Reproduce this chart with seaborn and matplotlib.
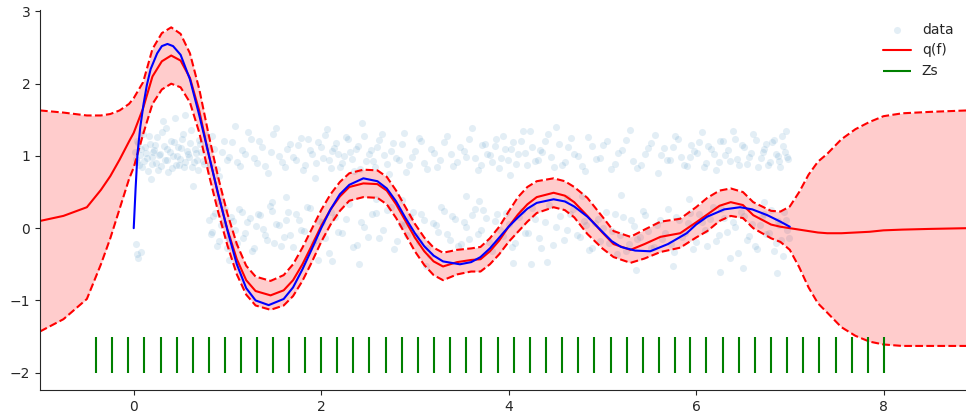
import numpy as np
import pandas as pd
import matplotlib
matplotlib.use("Agg")
import matplotlib.pyplot as plt
import seaborn as sns

# noisy observations, upper band (around 1)
up_x = [0.01, 0.03, 0.05, 0.07, 0.09, 0.12, 0.14, 0.16, 0.19, 0.21,
        0.23, 0.26, 0.28, 0.30, 0.33, 0.35, 0.37, 0.40, 0.42, 0.45,
        0.47, 0.49, 0.52, 0.54, 0.57, 0.59, 0.61, 0.64, 0.66, 0.69,
        0.71, 0.74, 0.77, 0.81, 0.86, 0.91, 0.96, 1.02, 1.08, 1.13,
        1.19, 1.25, 1.31, 1.37, 1.43, 1.49, 1.55, 1.61, 1.67, 1.73,
        1.78, 1.83, 1.88, 1.93, 1.97, 2.02, 2.06, 2.10, 2.14, 2.18,
        2.22, 2.26, 2.31, 2.35, 2.39, 2.44, 2.48, 2.53, 2.57, 2.62,
        2.67, 2.72, 2.77, 2.83, 2.88, 2.94, 3.00, 3.07, 3.13, 3.20,
        3.27, 3.34, 3.41, 3.48, 3.55, 3.61, 3.67, 3.72, 3.77, 3.82,
        3.87, 3.92, 3.96, 4.01, 4.05, 4.10, 4.15, 4.20, 4.25, 4.31,
        4.36, 4.42, 4.48, 4.54, 4.60, 4.67, 4.74, 4.81, 4.89, 4.97,
        5.05, 5.13, 5.21, 5.29, 5.37, 5.45, 5.52, 5.59, 5.66, 5.72,
        5.78, 5.84, 5.90, 5.95, 6.01, 6.06, 6.11, 6.16, 6.21, 6.26,
        6.31, 6.36, 6.41, 6.46, 6.51, 6.56, 6.61, 6.66, 6.71, 6.75,
        6.79, 6.83, 6.87, 6.90, 6.93, 6.96, 6.98, 0.18, 0.44, 0.63,
        0.02, 0.04, 0.06, 0.08, 0.10, 0.11, 0.13, 0.15, 0.17, 0.20,
        0.22, 0.24, 0.25, 0.27, 0.29, 0.32, 0.34, 0.36, 0.39, 0.41,
        0.43, 0.46, 0.48, 0.50, 0.53, 0.55, 0.58, 0.60, 0.62, 0.65,
        0.67, 0.70, 0.72, 0.75, 0.79, 0.84, 0.89, 0.94, 0.99, 1.05,
        1.10, 1.16, 1.22, 1.28, 1.34, 1.40, 1.46, 1.52, 1.58, 1.64,
        1.70, 1.75, 1.81, 1.86, 1.90, 1.95, 2.00, 2.04, 2.08, 2.12,
        2.16, 2.20, 2.24, 2.29, 2.33, 2.37, 2.41, 2.46, 2.51, 2.55,
        2.60, 2.65, 2.70, 2.75, 2.80, 2.86, 2.91, 2.97, 3.04, 3.10,
        3.17, 3.24, 3.31, 3.38, 3.45, 3.52, 3.58, 3.64, 3.70, 3.75,
        3.80, 3.85, 3.90, 3.94, 3.99, 4.03, 4.08, 4.13, 4.18, 4.23,
        4.28, 4.33, 4.39, 4.45, 4.51, 4.57, 4.63, 4.70, 4.78, 4.85,
        4.93, 5.01, 5.09, 5.17, 5.25, 5.33, 5.41, 5.49, 5.56, 5.63,
        5.69, 5.75, 5.81, 5.87, 5.93, 5.98, 6.03, 6.08, 6.13, 6.19,
        6.24, 6.29, 6.34, 6.39, 6.44, 6.49, 6.54, 6.59, 6.64, 6.69,
        6.73, 6.77, 6.81, 6.85, 6.88, 6.92, 6.95, 6.97, 0.31, 0.55]
up_y = [1.05, 0.92, 1.18, 1.01, 0.84, 1.12, 0.97, 1.27, 0.89, 1.06,
        1.15, 0.81, 1.02, 1.33, 0.94, 1.09, 0.78, 1.21, 1.00, 0.88,
        1.13, 0.96, 1.24, 0.85, 1.07, 0.99, 1.36, 0.91, 1.04, 0.80,
        1.17, 0.93, 1.29, 0.87, 1.10, 0.72, 1.20, 0.98, 1.41, 0.86,
        1.03, 1.23, 0.90, 1.12, 0.77, 1.31, 1.00, 0.84, 1.16, 0.95,
        1.25, 0.88, 1.08, 0.69, 1.19, 0.97, 1.37, 0.83, 1.11, 1.02,
        0.90, 1.26, 1.05, 0.79, 1.14, 1.46, 0.93, 1.08, 0.85, 1.22,
        1.01, 0.75, 1.18, 0.95, 1.32, 0.87, 1.07, 1.21, 0.82, 1.04,
        0.94, 1.28, 0.86, 1.12, 0.99, 1.38, 0.80, 1.15, 1.03, 0.91,
        1.24, 0.97, 1.09, 0.73, 1.19, 1.02, 1.34, 0.88, 1.13, 0.95,
        1.06, 1.30, 0.84, 1.17, 0.92, 1.25, 1.00, 0.79, 1.14, 0.97,
        1.21, 0.89, 1.08, 1.36, 0.83, 1.02, 1.18, 0.76, 1.11, 0.94,
        1.27, 0.98, 0.86, 1.15, 1.04, 1.33, 0.90, 1.09, 0.81, 1.20,
        1.01, 0.93, 1.24, 0.87, 1.12, 0.99, 1.30, 0.84, 1.06, 1.17,
        0.92, 1.22, 1.00, 0.85, 1.14, 1.35, 0.96, 0.68, 1.52, 0.58,
        0.96, 1.21, 0.87, 1.09, 1.30, 0.93, 1.04, 0.79, 1.16, 0.98,
        1.08, 0.90, 1.26, 1.01, 0.86, 1.14, 1.39, 0.95, 1.06, 0.83,
        1.19, 1.00, 0.88, 1.11, 1.31, 0.92, 1.03, 1.18, 0.84, 1.09,
        0.95, 1.22, 1.05, 0.89, 1.12, 1.27, 0.82, 1.06, 0.94, 1.19,
        0.91, 1.08, 1.33, 0.97, 1.20, 0.86, 1.05, 1.39, 0.92, 1.10,
        0.98, 1.15, 0.80, 1.24, 1.03, 0.90, 1.12, 1.29, 0.94, 1.07,
        1.18, 0.85, 1.00, 1.23, 0.96, 1.10, 0.82, 1.27, 1.02, 0.93,
        1.13, 1.30, 0.89, 1.07, 0.97, 1.16, 0.78, 0.99, 1.25, 0.90,
        1.10, 0.85, 1.19, 1.02, 0.91, 1.07, 1.24, 0.97, 0.87, 1.16,
        1.01, 1.14, 0.83, 1.28, 0.95, 1.10, 0.89, 1.20, 1.04, 1.35,
        0.93, 1.08, 1.21, 0.98, 1.40, 0.88, 1.13, 1.03, 0.86, 1.26,
        0.96, 1.15, 0.82, 1.04, 1.22, 0.93, 0.87, 1.11, 1.29, 1.01,
        0.95, 1.12, 1.23, 0.88, 0.99, 1.07, 1.19, 0.85, 1.14, 1.02,
        0.91, 1.20, 1.08, 1.34, 0.96, 1.15, 0.89, 1.04, 1.22, 0.97,
        1.09, 0.88, 1.19, 1.03, 0.93, 1.27, 1.06, 0.99, 1.48, 1.57]

# noisy observations, lower band (around 0)
low_x = [0.02, 0.05, 0.08, 0.80, 0.84, 0.87, 0.91, 0.95, 0.99, 1.04,
         1.08, 1.12, 1.17, 1.21, 1.26, 1.30, 1.35, 1.40, 1.45, 1.50,
         1.55, 1.60, 1.65, 1.70, 1.76, 1.82, 1.88, 1.94, 2.01, 2.08,
         2.15, 2.22, 2.30, 2.38, 2.46, 2.54, 2.62, 2.70, 2.78, 2.85,
         2.92, 2.98, 3.04, 3.10, 3.16, 3.22, 3.28, 3.34, 3.40, 3.46,
         3.52, 3.58, 3.64, 3.70, 3.76, 3.82, 3.88, 3.94, 4.00, 4.07,
         4.14, 4.21, 4.28, 4.35, 4.43, 4.51, 4.59, 4.66, 4.73, 4.80,
         4.86, 4.92, 4.98, 5.04, 5.10, 5.16, 5.22, 5.28, 5.34, 5.40,
         5.46, 5.52, 5.58, 5.64, 5.70, 5.76, 5.82, 5.88, 5.94, 6.00,
         6.06, 6.12, 6.18, 6.24, 6.30, 6.36, 6.42, 6.48, 6.54, 6.60,
         6.65, 6.70, 6.75, 6.80, 6.85, 6.89, 6.93, 6.96, 6.99, 1.02,
         1.48, 2.12, 2.58, 3.12, 3.68, 4.24, 4.78, 5.36, 5.92, 6.50,
         0.03, 0.82, 0.85, 0.89, 0.93, 0.97, 1.01, 1.06, 1.10, 1.15,
         1.19, 1.24, 1.28, 1.33, 1.38, 1.42, 1.47, 1.52, 1.57, 1.62,
         1.67, 1.73, 1.79, 1.85, 1.91, 1.98, 2.04, 2.11, 2.18, 2.26,
         2.34, 2.42, 2.50, 2.58, 2.66, 2.74, 2.81, 2.88, 2.95, 3.01,
         3.07, 3.13, 3.19, 3.25, 3.31, 3.37, 3.43, 3.49, 3.55, 3.61,
         3.67, 3.73, 3.79, 3.85, 3.91, 3.97, 4.04, 4.11, 4.18, 4.25,
         4.32, 4.39, 4.47, 4.55, 4.62, 4.69, 4.76, 4.83, 4.89, 4.95,
         5.01, 5.07, 5.13, 5.19, 5.25, 5.31, 5.37, 5.43, 5.49, 5.55,
         5.61, 5.67, 5.73, 5.79, 5.85, 5.91, 5.97, 6.03, 6.09, 6.15,
         6.21, 6.27, 6.33, 6.39, 6.45, 6.51, 6.57, 6.63, 6.68, 6.73,
         6.78, 6.83, 6.87, 6.91, 6.94, 6.97, 0.92, 1.63, 2.40, 3.55,
         4.05, 4.62, 5.20, 5.75, 6.25, 6.72, 1.97, 2.86, 4.41, 6.86]
low_y = [-0.22, -0.41, -0.33, 0.12, -0.05, 0.21, -0.18, 0.07, -0.28, 0.15,
         -0.02, 0.26, -0.14, 0.09, -0.31, 0.03, 0.18, -0.09, 0.31, -0.21,
         0.05, -0.12, 0.22, -0.26, 0.11, -0.04, 0.28, -0.17, 0.08, -0.35,
         0.16, -0.07, 0.33, -0.23, 0.02, 0.19, -0.13, 0.25, -0.29, 0.06,
         -0.10, 0.23, -0.19, 0.12, -0.37, 0.04, 0.30, -0.08, 0.17, -0.24,
         0.09, -0.15, 0.27, -0.03, 0.14, -0.32, 0.20, -0.11, 0.06, -0.20,
         0.24, -0.06, 0.13, -0.27, 0.32, 0.01, -0.16, 0.19, -0.09, 0.10,
         -0.30, 0.07, -0.18, 0.22, -0.04, -0.36, 0.15, -0.22, 0.03, -0.12,
         0.18, -0.27, 0.05, -0.15, 0.26, -0.33, 0.11, -0.06, 0.21, -0.19,
         0.08, -0.24, 0.29, -0.10, 0.14, -0.41, 0.02, 0.23, -0.17, 0.06,
         -0.29, 0.16, -0.08, 0.25, -0.21, 0.04, -0.38, 0.12, -0.13, -0.44,
         0.36, -0.46, 0.41, -0.52, 0.38, -0.49, 0.44, -0.58, 0.40, -0.55,
         -0.36, -0.08, 0.17, -0.24, 0.04, 0.27, -0.13, 0.10, -0.20, 0.23,
         -0.06, 0.14, -0.27, 0.20, -0.01, -0.16, 0.24, 0.06, -0.25, 0.12,
         -0.10, 0.19, -0.03, 0.29, -0.21, 0.10, -0.14, 0.22, -0.05, 0.13,
         -0.26, 0.08, -0.12, 0.21, -0.02, 0.30, -0.18, 0.04, 0.16, -0.11,
         0.20, -0.28, 0.07, -0.05, 0.24, -0.16, 0.13, -0.22, 0.01, 0.18,
         -0.08, 0.25, -0.19, 0.10, -0.03, 0.21, -0.26, 0.15, -0.07, 0.28,
         -0.14, 0.09, -0.23, 0.17, -0.02, 0.26, -0.12, 0.05, -0.27, 0.13,
         0.00, -0.20, 0.19, -0.09, -0.31, 0.11, -0.15, 0.24, -0.04, -0.26,
         0.12, -0.07, -0.22, 0.16, -0.12, 0.07, -0.29, 0.20, -0.02, 0.13,
         -0.18, 0.27, -0.05, 0.09, -0.34, 0.17, -0.11, -0.25, 0.04, 0.19,
         -0.07, -0.31, 0.10, -0.16, 0.22, -0.03, 0.38, 0.43, -0.50, 0.45,
         -0.48, 0.42, 0.46, -0.53, -0.60, 0.36, -0.44, 0.39, -0.47, -0.62]

# q(f): posterior mean and 2-sigma half width
q_x = [-1.0, -0.75, -0.5, -0.35, -0.25, -0.15, -0.05, 0.0, 0.1, 0.2,
       0.3, 0.4, 0.5, 0.6, 0.7, 0.8, 0.9, 1.0, 1.1, 1.2,
       1.3, 1.46, 1.6, 1.7, 1.8, 1.9, 2.0, 2.1, 2.2, 2.3,
       2.45, 2.6, 2.7, 2.8, 2.9, 3.0, 3.1, 3.2, 3.3, 3.45,
       3.6, 3.7, 3.8, 3.9, 4.0, 4.1, 4.2, 4.3, 4.48, 4.6,
       4.7, 4.84, 5.0, 5.12, 5.3, 5.45, 5.62, 5.83, 6.0, 6.12,
       6.25, 6.37, 6.5, 6.61, 6.8, 6.9, 7.0, 7.1, 7.2, 7.3,
       7.4, 7.55, 7.7, 7.85, 8.0, 8.2, 8.5, 8.9]
q_mean = [0.10, 0.17, 0.29, 0.53, 0.72, 0.95, 1.20, 1.32, 1.66, 2.10,
          2.31, 2.39, 2.32, 2.08, 1.62, 1.02, 0.47, -0.02, -0.43, -0.72,
          -0.87, -0.93, -0.86, -0.72, -0.50, -0.24, 0.03, 0.26, 0.44, 0.57,
          0.62, 0.61, 0.52, 0.33, 0.10, -0.13, -0.32, -0.46, -0.53, -0.47,
          -0.44, -0.43, -0.32, -0.17, 0.02, 0.19, 0.33, 0.43, 0.49, 0.45,
          0.36, 0.17, -0.06, -0.22, -0.30, -0.22, -0.12, -0.07, 0.08, 0.19,
          0.31, 0.36, 0.32, 0.18, 0.05, 0.02, 0.00, -0.02, -0.04, -0.06,
          -0.07, -0.07, -0.06, -0.05, -0.03, -0.02, -0.01, 0.00]
q_half = [1.53, 1.43, 1.27, 1.03, 0.86, 0.68, 0.52, 0.48, 0.36, 0.38,
          0.39, 0.39, 0.37, 0.34, 0.30, 0.27, 0.24, 0.22, 0.21, 0.20,
          0.20, 0.20, 0.21, 0.22, 0.23, 0.23, 0.22, 0.21, 0.20, 0.19,
          0.19, 0.19, 0.19, 0.19, 0.19, 0.19, 0.19, 0.19, 0.19, 0.17,
          0.16, 0.17, 0.18, 0.19, 0.21, 0.24, 0.24, 0.22, 0.20, 0.20,
          0.21, 0.25, 0.22, 0.18, 0.18, 0.20, 0.21, 0.20, 0.21, 0.23,
          0.21, 0.19, 0.18, 0.18, 0.19, 0.21, 0.30, 0.52, 0.78, 0.98,
          1.10, 1.30, 1.43, 1.52, 1.58, 1.61, 1.62, 1.63]

# true latent function
f_x = [0.0, 0.02, 0.04, 0.07, 0.105, 0.14, 0.18, 0.25, 0.3, 0.36,
       0.42, 0.5, 0.6, 0.7, 0.8, 0.9, 1.0, 1.1, 1.2, 1.3,
       1.44, 1.6, 1.7, 1.8, 1.9, 2.0, 2.1, 2.2, 2.3, 2.45,
       2.6, 2.7, 2.8, 2.9, 3.0, 3.1, 3.2, 3.3, 3.48, 3.6,
       3.7, 3.8, 3.9, 4.0, 4.1, 4.2, 4.3, 4.48, 4.6, 4.7,
       4.84, 5.0, 5.1, 5.2, 5.35, 5.51, 5.7, 5.9, 6.0, 6.12,
       6.3, 6.47, 6.6, 6.76, 6.9, 7.0]
f_y = [0.0, 0.55, 1.03, 1.40, 1.72, 1.98, 2.20, 2.42, 2.52, 2.55,
       2.52, 2.40, 2.06, 1.56, 1.02, 0.48, -0.03, -0.50, -0.83, -1.00,
       -1.065, -0.98, -0.82, -0.57, -0.29, 0.0, 0.26, 0.47, 0.60, 0.69,
       0.65, 0.55, 0.37, 0.14, -0.07, -0.25, -0.38, -0.46, -0.50, -0.47,
       -0.40, -0.28, -0.13, 0.02, 0.15, 0.27, 0.35, 0.40, 0.37, 0.30,
       0.16, -0.05, -0.18, -0.26, -0.31, -0.32, -0.22, -0.07, 0.05, 0.16,
       0.26, 0.29, 0.26, 0.18, 0.09, 0.02]

# inducing point locations
z_x = [-0.40, -0.23, -0.06, 0.11, 0.29, 0.46, 0.63, 0.80, 0.97, 1.14,
       1.31, 1.49, 1.66, 1.83, 2.00, 2.17, 2.34, 2.51, 2.69, 2.86,
       3.03, 3.20, 3.37, 3.54, 3.71, 3.89, 4.06, 4.23, 4.40, 4.57,
       4.74, 4.91, 5.09, 5.26, 5.43, 5.60, 5.77, 5.94, 6.11, 6.29,
       6.46, 6.63, 6.80, 6.97, 7.14, 7.31, 7.49, 7.66, 7.83, 8.00]

sns.set_style('ticks')
plt.rcParams['font.family'] = ['DejaVu Sans']

data = pd.DataFrame({'x': up_x + low_x, 'y': up_y + low_y})
q = pd.DataFrame({'x': q_x, 'mean': q_mean, 'half': q_half})
q['upper'] = q['mean'] + q['half']
q['lower'] = q['mean'] - q['half']

fig = plt.figure(figsize=(9.66, 4.12), dpi=100)
ax = fig.add_axes([40/966, 22/412, 926/966, 380/412])

sns.scatterplot(data=data, x='x', y='y', color='C0', alpha=0.12, s=26,
                linewidth=0, label='data', ax=ax)
ax.fill_between(q['x'], q['lower'], q['upper'], color='red', alpha=0.2, lw=0)
sns.lineplot(data=q, x='x', y='mean', color='red', lw=1.5, label='q(f)', ax=ax)
sns.lineplot(data=q, x='x', y='upper', color='red', lw=1.5, linestyle='--', ax=ax)
sns.lineplot(data=q, x='x', y='lower', color='red', lw=1.5, linestyle='--', ax=ax)
sns.lineplot(x=f_x, y=f_y, color='blue', lw=1.5, ax=ax)
ax.vlines(z_x, -2, -1.5, colors='green', lw=1.5, label='Zs')

ax.set_xlim(-1, 8.88)
ax.set_ylim(-2.24, 3.02)
ax.set_xlabel('')
ax.set_ylabel('')
ax.tick_params(labelsize=10)
sns.despine(ax=ax)

handles, labels = ax.get_legend_handles_labels()
order = [labels.index(n) for n in ['data', 'q(f)', 'Zs']]
ax.legend([handles[i] for i in order], [labels[i] for i in order],
          loc='upper right', frameon=False, fontsize=10)

fig.savefig('out.png', dpi=100)
